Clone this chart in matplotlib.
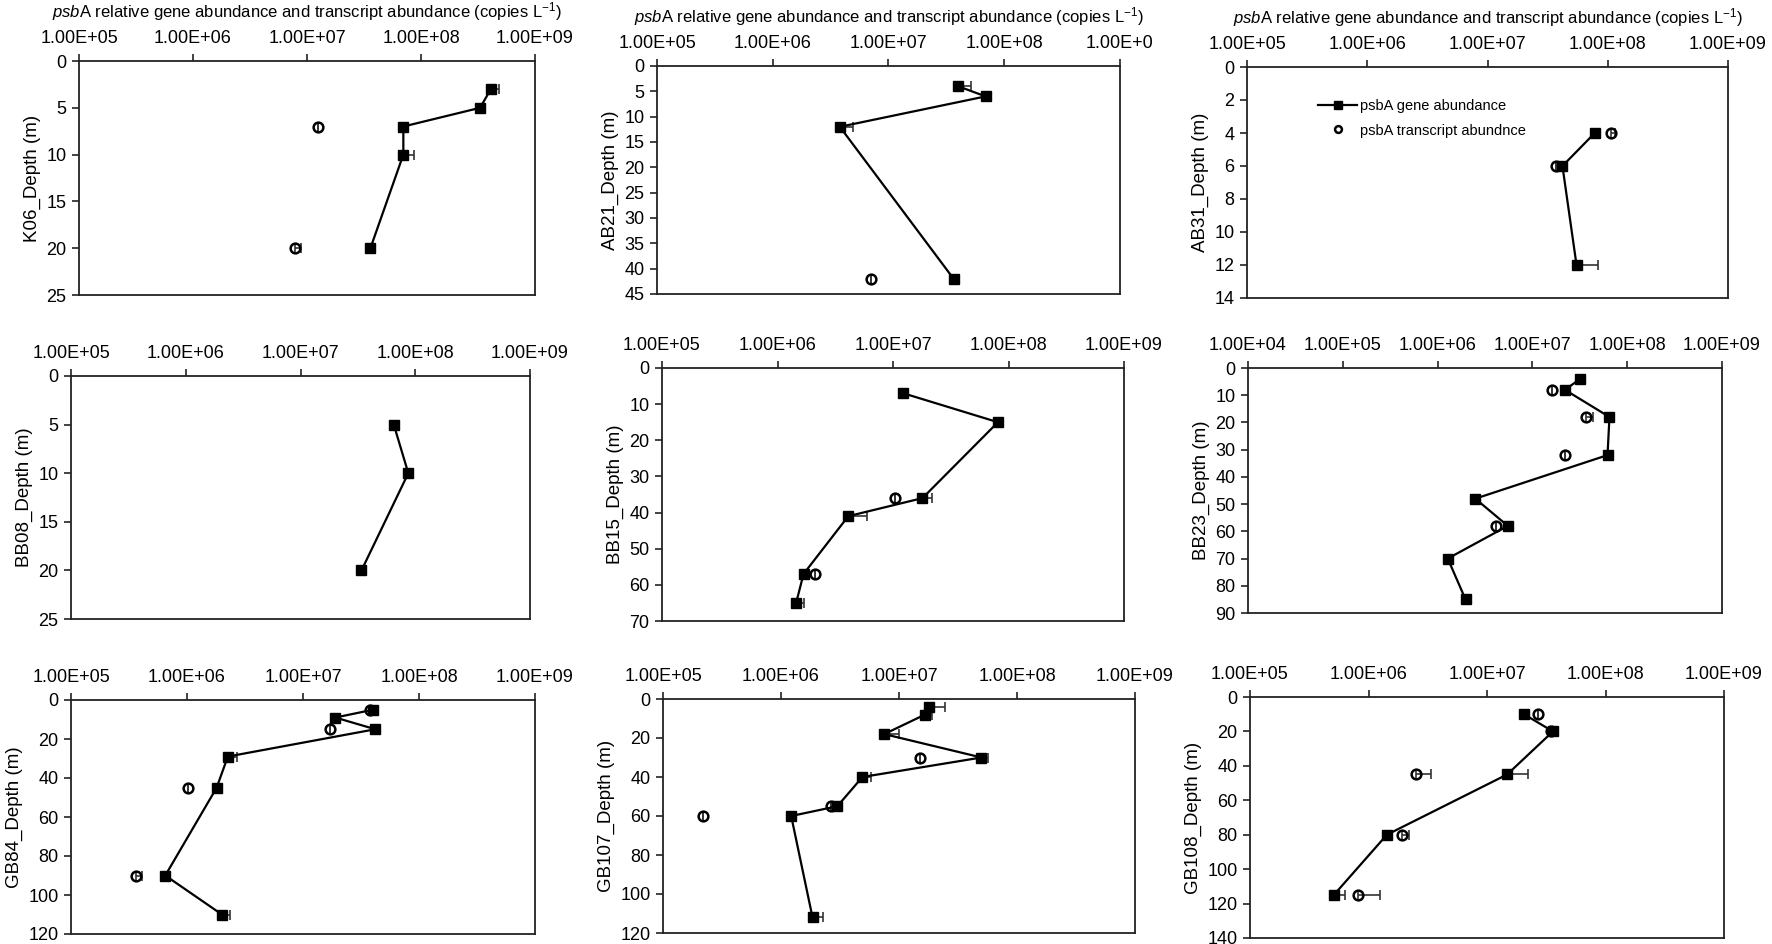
import numpy as np
import matplotlib
matplotlib.use('Agg')
import matplotlib.pyplot as plt

plt.rcParams['font.family'] = ['Liberation Sans', 'DejaVu Sans']
plt.rcParams['mathtext.fontset'] = 'custom'
plt.rcParams['mathtext.rm'] = 'Liberation Sans'
plt.rcParams['mathtext.it'] = 'Liberation Sans:italic'

#Stations (panel order, row by row)
stations = ['K06', 'AB21', 'AB31', 'BB08', 'BB15', 'BB23', 'GB84', 'GB107', 'GB108']

#psbA gene abundance (copies/L): depth, value, +error
k06_gene_depth = [3, 5, 7, 10, 20]
k06_gene = [4.1e8, 3.3e8, 7.0e7, 7.0e7, 3.6e7]
k06_gene_err = [7e7, 0, 0, 1.6e7, 0]
ab21_gene_depth = [4, 6, 12, 42]
ab21_gene = [4.0e7, 6.9e7, 3.8e6, 3.65e7]
ab21_gene_err = [1.2e7, 0, 1.1e6, 0]
ab31_gene_depth = [4, 6, 12]
ab31_gene = [7.8e7, 4.2e7, 5.5e7]
ab31_gene_err = [0, 0, 2.8e7]
bb08_gene_depth = [5, 10, 20]
bb08_gene = [6.5e7, 8.7e7, 3.4e7]
bb08_gene_err = [0, 6e6, 0]
bb15_gene_depth = [7, 15, 36, 41, 57, 65]
bb15_gene = [1.23e7, 8.1e7, 1.8e7, 4.1e6, 1.68e6, 1.45e6]
bb15_gene_err = [1.1e6, 0, 3.7e6, 1.8e6, 0, 2.3e5]
bb23_gene_depth = [4, 8, 18, 32, 48, 58, 70, 85]
bb23_gene = [3.2e7, 2.2e7, 6.5e7, 6.2e7, 2.5e6, 5.5e6, 1.28e6, 1.97e6]
bb23_gene_err = [0, 0, 0, 0, 0, 0, 0, 0]
gb84_gene_depth = [5, 9, 15, 29, 45, 90, 110]
gb84_gene = [4.0e7, 1.9e7, 4.2e7, 2.25e6, 1.8e6, 6.5e5, 2.0e6]
gb84_gene_err = [0, 0, 0, 4.5e5, 0, 0, 3.5e5]
gb107_gene_depth = [4, 8, 18, 30, 40, 55, 60, 112]
gb107_gene = [1.8e7, 1.66e7, 7.5e6, 5.0e7, 4.9e6, 3.0e6, 1.22e6, 1.85e6]
gb107_gene_err = [6.5e6, 2.6e6, 2.5e6, 7e6, 9e5, 0, 0, 4e5]
gb108_gene_depth = [10, 20, 45, 80, 115]
gb108_gene = [2.05e7, 3.6e7, 1.48e7, 1.43e6, 5.1e5]
gb108_gene_err = [0, 0, 7.4e6, 0, 1.2e5]

#psbA transcript abundance (copies/L): depth, value, +error
k06_tx_depth = [7, 20]
k06_tx = [1.26e7, 7.8e6]
k06_tx_err = [0, 1.0e6]
ab21_tx_depth = [42]
ab21_tx = [7.0e6]
ab21_tx_err = [0]
ab31_tx_depth = [4, 6]
ab31_tx = [1.07e8, 3.7e7]
ab31_tx_err = [8e6, 0]
bb08_tx_depth = []
bb08_tx = []
bb08_tx_err = []
bb15_tx_depth = [36, 57]
bb15_tx = [1.04e7, 2.1e6]
bb15_tx_err = [0, 0]
bb23_tx_depth = [8, 18, 32, 58]
bb23_tx = [1.6e7, 3.7e7, 2.2e7, 4.15e6]
bb23_tx_err = [0, 7e6, 0, 0]
gb84_tx_depth = [5, 15, 45, 90]
gb84_tx = [3.75e7, 1.7e7, 1.03e6, 3.6e5]
gb84_tx_err = [0, 0, 0, 5e4]
gb107_tx_depth = [30, 55, 60]
gb107_tx = [1.5e7, 2.65e6, 2.2e5]
gb107_tx_err = [0, 0, 0]
gb108_tx_depth = [10, 20, 45, 80, 115]
gb108_tx = [2.67e7, 3.5e7, 2.5e6, 1.92e6, 8.1e5]
gb108_tx_err = [0, 0, 8.4e5, 2.8e5, 4.4e5]

gene_depths = [k06_gene_depth, ab21_gene_depth, ab31_gene_depth, bb08_gene_depth, bb15_gene_depth,
               bb23_gene_depth, gb84_gene_depth, gb107_gene_depth, gb108_gene_depth]
genes = [k06_gene, ab21_gene, ab31_gene, bb08_gene, bb15_gene, bb23_gene, gb84_gene, gb107_gene, gb108_gene]
gene_errs = [k06_gene_err, ab21_gene_err, ab31_gene_err, bb08_gene_err, bb15_gene_err,
             bb23_gene_err, gb84_gene_err, gb107_gene_err, gb108_gene_err]
tx_depths = [k06_tx_depth, ab21_tx_depth, ab31_tx_depth, bb08_tx_depth, bb15_tx_depth,
             bb23_tx_depth, gb84_tx_depth, gb107_tx_depth, gb108_tx_depth]
txs = [k06_tx, ab21_tx, ab31_tx, bb08_tx, bb15_tx, bb23_tx, gb84_tx, gb107_tx, gb108_tx]
tx_errs = [k06_tx_err, ab21_tx_err, ab31_tx_err, bb08_tx_err, bb15_tx_err,
           bb23_tx_err, gb84_tx_err, gb107_tx_err, gb108_tx_err]

#Axis ranges
x_lo_exp = [5, 5, 5, 5, 5, 4, 5, 5, 5]
y_max = [25, 45, 14, 25, 70, 90, 120, 120, 140]
y_step = [5, 5, 2, 5, 10, 10, 20, 20, 20]
last_xlabel = ['1.00E+09', '1.00E+0', '1.00E+09', '1.00E+09', '1.00E+09',
               '1.00E+09', '1.00E+09', '1.00E+09', '1.00E+09']

title = r'$\it{psb}$A relative gene abundance and transcript abundance (copies L$^{-1}$)'

#Axes boxes in pixels: left, top, right, bottom
W, H = 1772, 944
boxes = [(79, 61, 535, 295), (657, 66, 1120, 294), (1247, 67, 1728, 298),
         (71, 376, 530, 619), (662, 368, 1124, 621), (1248, 368, 1722, 613),
         (71, 700, 535, 934), (663, 699, 1135, 933), (1250, 697, 1724, 938)]

fig = plt.figure(figsize=(W / 100, H / 100), dpi=100)

for i, name in enumerate(stations):
    l, t, r, b = boxes[i]
    ax = fig.add_axes([l / W, 1 - b / H, (r - l) / W, (b - t) / H])

    #error bars (positive side only)
    gd, gv, ge = gene_depths[i], genes[i], gene_errs[i]
    ax.errorbar(gv, gd, xerr=[np.zeros(len(gv)), ge], fmt='none', ecolor='#333333',
                elinewidth=1.2, capsize=3.5, capthick=1.2, zorder=2)
    if len(txs[i]):
        ax.errorbar(txs[i], tx_depths[i], xerr=[np.zeros(len(txs[i])), tx_errs[i]], fmt='none',
                    ecolor='#333333', elinewidth=1.2, capsize=3.5, capthick=1.2, zorder=2)

    ax.plot(gv, gd, '-s', color='black', lw=1.6, ms=7.5, label='psbA gene abundance', zorder=3)
    ax.plot(txs[i], tx_depths[i], 'o', mfc='none', mec='black', mew=1.8, ms=7,
            label='psbA transcript abundnce', zorder=4)

    ax.set_xscale('log')
    ax.set_xlim(10.0 ** x_lo_exp[i], 1e9)
    ax.set_ylim(y_max[i], 0)
    ax.xaxis.tick_top()
    exps = np.arange(x_lo_exp[i], 10)
    ax.set_xticks(10.0 ** exps)
    labels = ['1.00E+%02d' % e for e in exps]
    labels[-1] = last_xlabel[i]
    ax.set_xticklabels(labels)
    ax.set_xticks([], minor=True)
    ax.set_yticks(np.arange(0, y_max[i] + 1, y_step[i]))
    ax.tick_params(axis='both', direction='out', length=5, width=1.2, labelsize=13, color='#222222')
    ax.tick_params(axis='x', pad=5)
    ax.tick_params(axis='y', pad=4)
    for s in ax.spines.values():
        s.set_linewidth(1.3)
        s.set_color('#222222')
    ax.set_ylabel(name + '_Depth (m)', fontsize=13.5, labelpad=4)

    if i < 3:
        ax.xaxis.set_label_position('top')
        ax.set_xlabel(title, fontsize=12, labelpad=9)

    if name == 'AB31':
        ax.legend(loc='upper left', bbox_to_anchor=(0.12, 0.92), frameon=False, fontsize=10.5,
                  handlelength=2.7, handletextpad=0.2, labelspacing=0.75, markerscale=0.7)

fig.savefig('out.png', dpi=100)
